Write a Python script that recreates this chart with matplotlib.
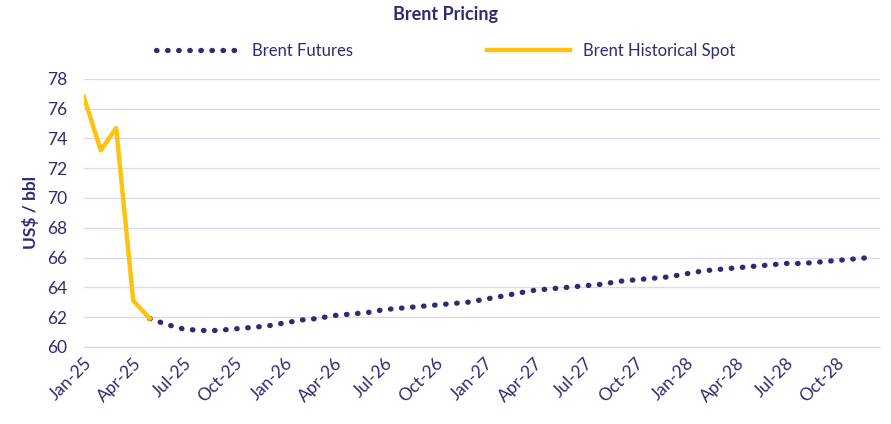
import pandas as pd
import matplotlib.pyplot as plt
import matplotlib.dates as mdates

plt.rcParams['font.family'] = 'Lato'

# Historical spot, Jan-25 to May-25
spot_months = pd.date_range('2025-01-01', periods=5, freq='MS')
spot_prices = [76.8, 73.2, 74.7, 63.1, 61.9]

# Futures curve, May-25 to Dec-28
futures_months = pd.date_range('2025-05-01', '2028-12-01', freq='MS')
futures_prices = [
    61.9, 61.5, 61.2, 61.1, 61.1, 61.2, 61.3, 61.4,          # May-25 .. Dec-25
    61.6, 61.8, 61.9, 62.1, 62.2, 62.3, 62.5, 62.6, 62.7, 62.8, 62.9, 63.0,  # 2026
    63.2, 63.4, 63.6, 63.8, 63.9, 64.0, 64.1, 64.2, 64.4, 64.5, 64.6, 64.7,  # 2027
    64.9, 65.1, 65.2, 65.3, 65.4, 65.5, 65.6, 65.6, 65.7, 65.8, 65.9, 66.0,  # 2028
]

NAVY = '#2e2b72'
GOLD = '#ffc20e'

fig, ax = plt.subplots(figsize=(8.91, 4.24), dpi=100)
fig.subplots_adjust(left=0.094, right=0.988, top=0.814, bottom=0.182)

ax.plot(futures_months, futures_prices, color=NAVY, linestyle=(0, (0.1, 2.0)),
        linewidth=3.8, dash_capstyle='round', label='Brent Futures', zorder=3)
ax.plot(spot_months, spot_prices, color=GOLD, linewidth=3.2,
        label='Brent Historical Spot', zorder=4)

ax.set_ylim(60, 78)
ax.set_yticks(range(60, 79, 2))
ax.set_xlim(pd.Timestamp('2025-01-01'), pd.Timestamp('2028-12-20'))
ticks = pd.date_range('2025-01-01', '2028-10-01', freq='3MS')
ax.set_xticks(ticks)
ax.xaxis.set_major_formatter(mdates.DateFormatter('%b-%y'))
plt.setp(ax.get_xticklabels(), rotation=45, ha='right', rotation_mode='anchor')
ax.tick_params(colors=NAVY, labelsize=12.5, length=0)
ax.tick_params(axis='x', pad=6)
ax.tick_params(axis='y', pad=12)

ax.grid(axis='y', color='#d9d9f0', linewidth=0.9)
for s in ['top', 'right', 'left']:
    ax.spines[s].set_visible(False)
ax.spines['bottom'].set_color('#d9d9f0')

ax.set_ylabel('US$ / bbl', color=NAVY, fontsize=12.5, fontweight='bold', labelpad=6)
fig.suptitle('Brent Pricing', color=NAVY, fontsize=13, fontweight='bold', y=0.985)
fig.legend(loc='upper center', bbox_to_anchor=(0.5, 0.935), ncol=2, frameon=False,
           fontsize=12, labelcolor=NAVY, handlelength=5, columnspacing=8)

plt.savefig('out.png')
